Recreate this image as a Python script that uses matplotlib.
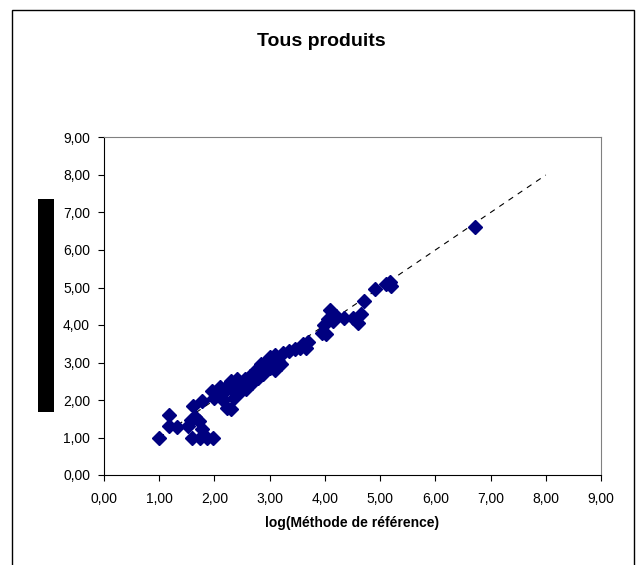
import matplotlib
matplotlib.use("Agg")
import matplotlib.pyplot as plt
from matplotlib.patches import Rectangle
from matplotlib.ticker import FuncFormatter, MultipleLocator

plt.rcParams['font.family'] = ['Liberation Sans', 'DejaVu Sans']

# log values: reference method (x) vs alternative method (y)
ref_x = [1.00, 1.18, 1.18, 1.33, 1.52, 1.58, 1.62, 1.77, 1.65, 1.72, 1.77,
         1.59, 1.74, 1.86, 1.98,
         1.95, 2.00, 2.05, 2.10, 2.15, 2.20, 2.22, 2.30, 2.30, 2.35, 2.40,
         2.45, 2.50, 2.55, 2.60, 2.65, 2.70, 2.75, 2.80, 2.85, 2.90, 2.95,
         3.00, 3.00, 3.05, 3.10, 3.10, 3.15, 3.20, 3.25, 3.35, 3.45, 3.55,
         3.60, 3.65, 3.70,
         2.35, 2.48, 2.58, 2.68, 2.78, 2.88, 2.95, 3.02, 3.08, 2.25, 2.40,
         3.95, 3.98, 4.02, 4.05, 4.10, 4.15, 4.20, 4.35, 4.50, 4.60, 4.65,
         4.70, 4.90, 5.10, 5.20, 5.18, 6.72]
alt_y = [1.00, 1.60, 1.30, 1.28, 1.30, 1.48, 1.85, 1.98, 1.55, 1.45, 1.22,
         1.00, 1.00, 1.00, 1.00,
         2.25, 2.05, 2.15, 2.35, 2.00, 2.25, 1.80, 1.75, 2.50, 2.30, 2.15,
         2.45, 2.35, 2.55, 2.40, 2.65, 2.55, 2.80, 2.70, 2.95, 2.80, 3.05,
         2.85, 3.15, 2.95, 3.20, 2.80, 3.05, 2.95, 3.25, 3.30, 3.35, 3.40,
         3.50, 3.40, 3.55,
         2.05, 2.25, 2.30, 2.45, 2.60, 2.70, 2.90, 3.00, 3.10, 2.40, 2.55,
         3.80, 4.00, 3.75, 4.15, 4.40, 4.10, 4.25, 4.20, 4.20, 4.05, 4.30,
         4.65, 4.95, 5.10, 5.05, 5.15, 6.60]

line_x = [1, 8]
line_y = [1, 8]

fig = plt.figure(figsize=(6.43, 5.65), dpi=100)
ax = fig.add_axes([104 / 643, 90 / 565, 497 / 643, 337.5 / 565])

ax.plot(line_x, line_y, color='black', linestyle=(0, (5, 5)), linewidth=0.8, zorder=2)
ax.plot(ref_x, alt_y, linestyle='none', marker='D', markersize=7.5,
        color='#000080', markeredgecolor='#000080', zorder=3)

ax.set_xlim(0, 9)
ax.set_ylim(0, 9)
ax.xaxis.set_major_locator(MultipleLocator(1))
ax.yaxis.set_major_locator(MultipleLocator(1))
fmt = FuncFormatter(lambda v, pos: f"{v:.2f}".replace('.', ','))
ax.xaxis.set_major_formatter(fmt)
ax.yaxis.set_major_formatter(fmt)
ax.tick_params(direction='out', length=4, width=0.8, labelsize=10, pad=6)
ax.tick_params(axis='x', pad=8)

for side in ('top', 'right'):
    ax.spines[side].set_color('#808080')
for side in ('left', 'bottom'):
    ax.spines[side].set_color('black')

fig.text(0.5, (565 - 42) / 565, 'Tous produits', ha='center', va='center',
         fontsize=14, fontweight='bold')
fig.text(352 / 643, (565 - 523) / 565, 'log(Méthode de référence)',
         ha='center', va='center', fontsize=10, fontweight='bold')

# outer chart border (open at the bottom)
fig.add_artist(Rectangle((12 / 643, -0.05), 622 / 643, (565 - 10) / 565 + 0.05,
                         transform=fig.transFigure, fill=False,
                         edgecolor='black', linewidth=1.0))
# masked axis title
fig.add_artist(Rectangle((38 / 643, (565 - 412) / 565), 16 / 643, 213 / 565,
                         transform=fig.transFigure, facecolor='black',
                         edgecolor='none'))

fig.savefig('out.png', dpi=100)
